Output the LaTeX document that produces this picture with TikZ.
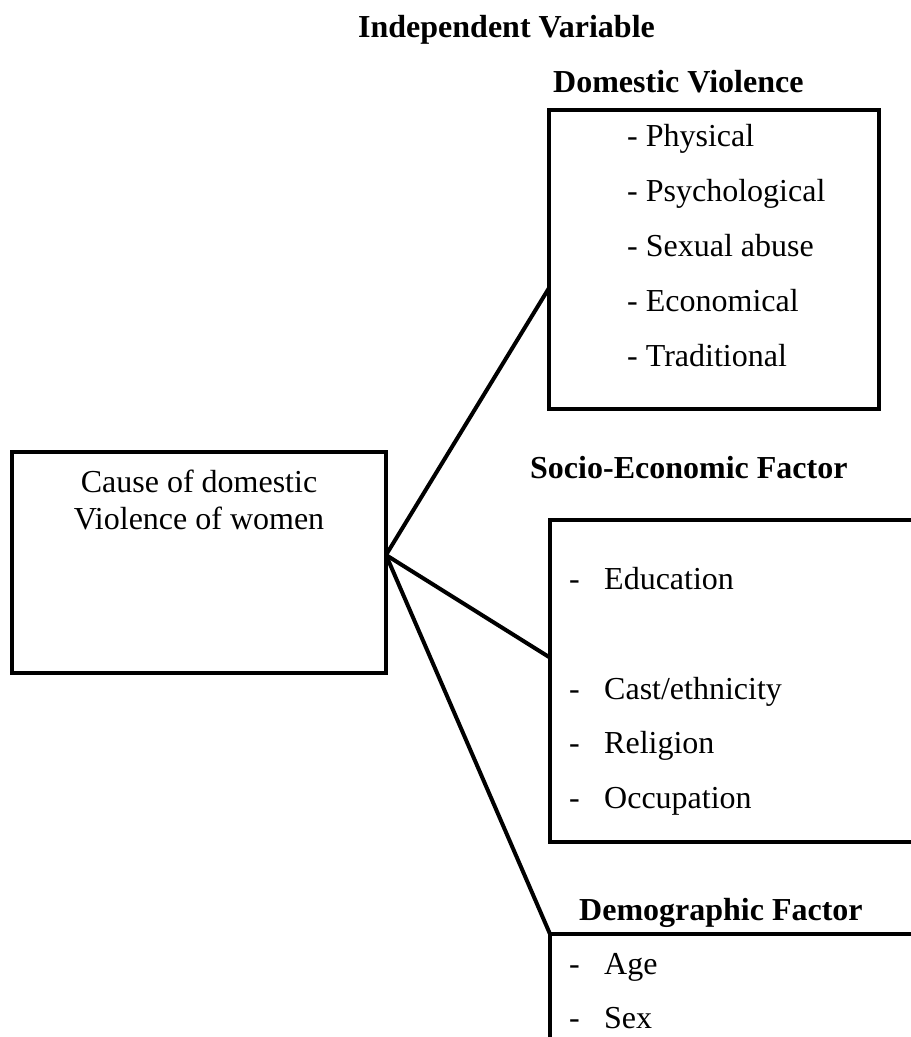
\documentclass[tikz,border=0pt]{standalone}
\usepackage{fontspec}
\setmainfont{Liberation Serif}
\begin{document}
\begin{tikzpicture}[x=1pt,y=-1pt,
  boxline/.style={line width=4pt, line join=miter},
  frame/.style={boxline, draw, rectangle, inner sep=0pt},
  conn/.style={line width=4pt, line cap=butt},
  txt/.style={inner sep=0pt, anchor=base west, font=\fontsize{32}{38}\selectfont},
  ctxt/.style={inner sep=0pt, anchor=base, font=\fontsize{32}{38}\selectfont},
  ttl/.style={inner sep=0pt, anchor=base west, font=\fontsize{32}{38}\selectfont\bfseries}]
\useasboundingbox (0,0) rectangle (911,1037);

% titles
\node[ttl] (tind) at (358,37) {Independent Variable};
\node[ttl] (tdv) at (553,92) {Domestic Violence};
\node[ttl] (tse) at (530,478) {Socio-Economic Factor};
\node[ttl] (tdem) at (579,920) {Demographic Factor};

% central box
\node[frame, minimum width=374pt, minimum height=221pt] (cause) at (199,562.5) {};
\node[ctxt] (c1) at (199,492) {Cause of domestic};
\node[ctxt] (c2) at (199,529) {Violence of women};
\coordinate (hub) at (386,555);

% domestic violence box
\node[frame, minimum width=330pt, minimum height=299pt] (dv) at (714,259.5) {};
\node[txt] (p1) at (627,146) {- Physical};
\node[txt] (p2) at (627,201) {- Psychological};
\node[txt] (p3) at (627,256) {- Sexual abuse};
\node[txt] (p4) at (627,311) {- Economical};
\node[txt] (p5) at (627,366) {- Traditional};

% socio-economic box (open to the right)
\coordinate (se1) at (915,520);
\coordinate (se2) at (550,520);
\coordinate (se3) at (550,842);
\coordinate (se4) at (915,842);
\draw[boxline] (se1) -- (se2) -- (se3) -- (se4);
\foreach \n/\t/\y in {s1/Education/589, s2/Cast\slash ethnicity/699, s3/Religion/753, s4/Occupation/808}{
  \node[txt] (\n d) at (569,\y) {-};
  \node[txt] (\n) at (604,\y) {\t};
}

% demographic box (open to the right and bottom)
\coordinate (dm1) at (915,934);
\coordinate (dm2) at (550,934);
\coordinate (dm3) at (550,1045);
\draw[boxline] (dm1) -- (dm2) -- (dm3);
\node[txt] (a1d) at (569,974) {-};
\node[txt] (a1) at (604,974) {Age};
\node[txt] (a2d) at (569,1028) {-};
\node[txt] (a2) at (604,1028) {Sex};

% connectors
\coordinate (e1) at (549,288);
\coordinate (e2) at (549,657);
\coordinate (e3) at (550,934);
\draw[conn] (hub) -- (e1);
\draw[conn] (hub) -- (e2);
\draw[conn] (hub) -- (e3);
\end{tikzpicture}
\end{document}
